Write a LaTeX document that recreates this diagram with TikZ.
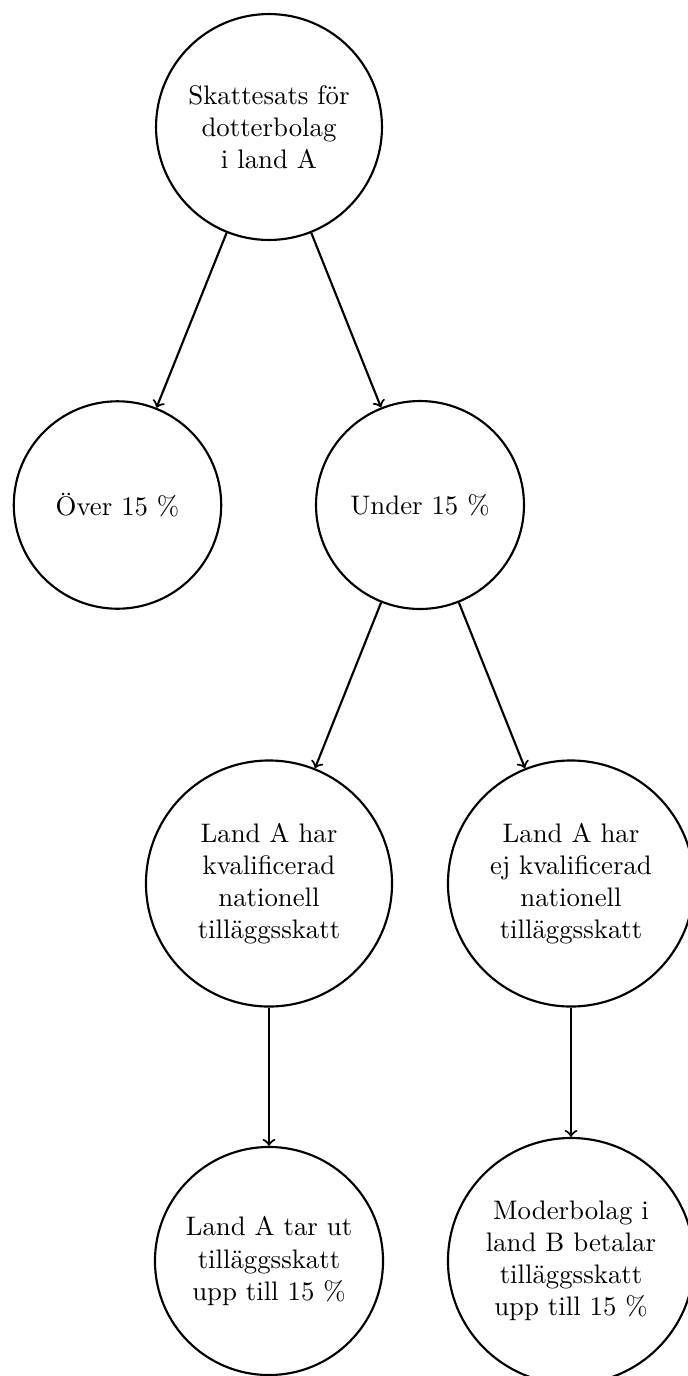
\documentclass[tikz,border=0pt]{standalone}
\usetikzlibrary{arrows}
\begin{document}
\begin{tikzpicture}[x=0.37313pt,y=-0.37313pt,
  circnode/.style={circle,draw,line width=0.8pt,align=center,inner sep=0pt},
  conn/.style={->,line width=0.8pt}]
\useasboundingbox (0,0) rectangle (688,1376);
\clip (0,0) rectangle (688,1376);
\node[circnode,minimum size=84.3pt] (top) at (269,127) {Skattesats för\\dotterbolag\\i land A};
\node[circnode,minimum size=77.4pt] (over) at (117.5,505) {Över 15 \%};
\node[circnode,minimum size=77.6pt] (under) at (420,505) {Under 15 \%};
\node[circnode,minimum size=91.8pt] (kval) at (269,883.5) {Land A har\\kvalificerad\\nationell\\tilläggsskatt};
\node[circnode,minimum size=91.8pt] (ej) at (571,883.5) {Land A har\\ej kvalificerad\\nationell\\tilläggsskatt};
\node[circnode,minimum size=85.1pt] (tar) at (269,1261) {Land A tar ut\\tilläggsskatt\\upp till 15 \%};
\node[circnode,minimum size=91.8pt] (moder) at (571,1261) {Moderbolag i\\land B betalar\\tilläggsskatt\\upp till 15 \%};
\draw[conn] (top) -- (over);
\draw[conn] (top) -- (under);
\draw[conn] (under) -- (kval);
\draw[conn] (under) -- (ej);
\draw[conn] (kval) -- (tar);
\draw[conn] (ej) -- (moder);
\end{tikzpicture}
\end{document}
